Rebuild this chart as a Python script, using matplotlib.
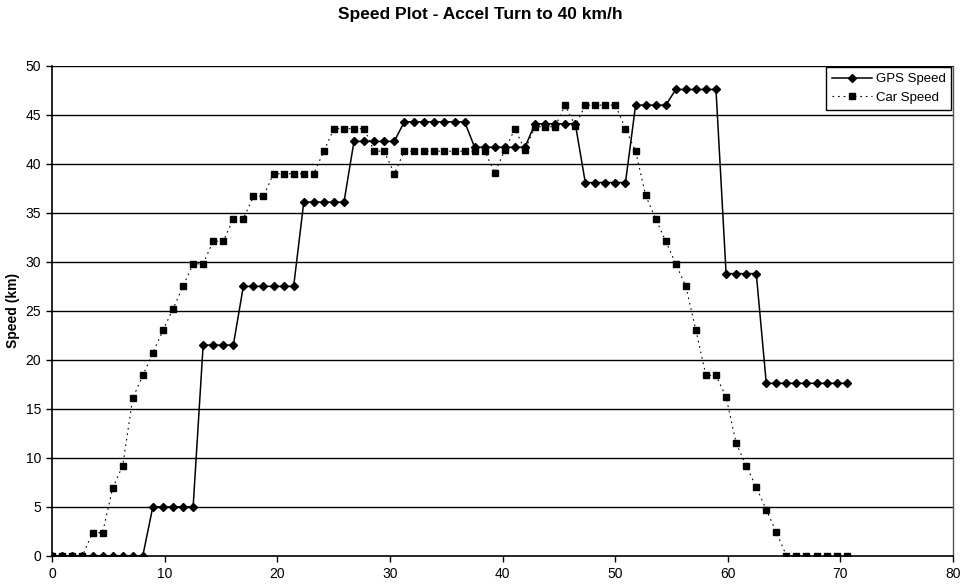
import matplotlib
matplotlib.use("Agg")
import matplotlib.pyplot as plt

plt.rcParams['font.family'] = ['Liberation Sans', 'DejaVu Sans']

time_s = [0.00, 0.89, 1.79, 2.68, 3.57, 4.47, 5.36, 6.25, 7.15, 8.04,
          8.93, 9.83, 10.72, 11.61, 12.51, 13.40, 14.29, 15.19, 16.08, 16.97,
          17.87, 18.76, 19.65, 20.55, 21.44, 22.34, 23.23, 24.12, 25.02, 25.91,
          26.80, 27.70, 28.59, 29.48, 30.38, 31.27, 32.16, 33.06, 33.95, 34.84,
          35.74, 36.63, 37.52, 38.42, 39.31, 40.20, 41.10, 41.99, 42.88, 43.78,
          44.67, 45.56, 46.46, 47.35, 48.24, 49.14, 50.03, 50.92, 51.82, 52.71,
          53.60, 54.50, 55.39, 56.28, 57.18, 58.07, 58.96, 59.86, 60.75, 61.64,
          62.54, 63.43, 64.32, 65.22, 66.11, 67.00, 67.90, 68.79, 69.68, 70.58]

gps_speed = [0, 0, 0, 0, 0, 0, 0, 0, 0, 0,
             5.0, 5.0, 5.0, 5.0, 5.0,
             21.5, 21.5, 21.5, 21.5,
             27.5, 27.5, 27.5, 27.5, 27.5, 27.5,
             36.1, 36.1, 36.1, 36.1, 36.1,
             42.3, 42.3, 42.3, 42.3, 42.3,
             44.3, 44.3, 44.3, 44.3, 44.3, 44.3, 44.3,
             41.7, 41.7, 41.7, 41.7, 41.7, 41.7,
             44.1, 44.1, 44.1, 44.1, 44.1,
             38.1, 38.1, 38.1, 38.1, 38.1,
             46.0, 46.0, 46.0, 46.0,
             47.6, 47.6, 47.6, 47.6, 47.6,
             28.8, 28.8, 28.8, 28.8,
             17.6, 17.6, 17.6, 17.6, 17.6, 17.6, 17.6, 17.6, 17.6]

car_speed = [0, 0, 0, 0, 2.35, 2.35, 6.9, 9.2, 16.1, 18.4,
             20.7, 23.0, 25.2, 27.5, 29.8, 29.8, 32.1, 32.1, 34.4, 34.4,
             36.7, 36.7, 39.0, 39.0, 39.0, 39.0, 39.0, 41.3, 43.6, 43.6,
             43.6, 43.6, 41.3, 41.3, 39.0, 41.3, 41.3, 41.3, 41.3, 41.3,
             41.3, 41.3, 41.3, 41.3, 39.1, 41.4, 43.6, 41.4, 43.8, 43.8,
             43.8, 46.0, 43.9, 46.0, 46.0, 46.0, 46.0, 43.6, 41.3, 36.8,
             34.4, 32.1, 29.8, 27.5, 23.0, 18.4, 18.4, 16.2, 11.5, 9.2,
             7.0, 4.7, 2.4, 0, 0, 0, 0, 0, 0, 0]

x_ticks = [0, 10, 20, 30, 40, 50, 60, 70, 80]
y_ticks = [0, 5, 10, 15, 20, 25, 30, 35, 40, 45, 50]

fig = plt.figure(figsize=(9.6, 5.88), dpi=100)
ax = fig.add_axes([0.0545, 0.0549, 0.938, 0.8329])

for yv in y_ticks[1:]:
    ax.axhline(yv, color='black', lw=1.0, zorder=1)

ax.plot(time_s, gps_speed, color='black', lw=1.1, marker='D', markersize=3.8,
        markerfacecolor='black', markeredgecolor='black', label='GPS Speed', zorder=3)
ax.plot(time_s, car_speed, color='black', lw=0.8, linestyle=(0, (1.5, 3.5)),
        marker='s', markersize=4.2, markerfacecolor='black', markeredgecolor='black',
        label='Car Speed', zorder=2)

ax.set_xlim(0, 80)
ax.set_ylim(0, 50)
ax.set_xticks(x_ticks)
ax.set_yticks(y_ticks)
ax.tick_params(axis='both', direction='out', length=4, width=1, labelsize=10, colors='black')
ax.tick_params(axis='x', pad=4)
ax.tick_params(axis='y', pad=4)

for side in ['left', 'bottom']:
    ax.spines[side].set_color('black')
    ax.spines[side].set_linewidth(1.2)
ax.spines['top'].set_visible(False)
ax.spines['right'].set_color('#555555')
ax.spines['right'].set_linestyle((0, (1, 1)))
ax.spines['right'].set_linewidth(1.0)

ax.set_ylabel('Speed (km)', fontsize=10, fontweight='bold', labelpad=4)
fig.text(0.5, 0.975, 'Speed Plot - Accel Turn to 40 km/h', ha='center', va='center',
         fontsize=12.5, fontweight='bold')

leg = ax.legend(loc='upper right', bbox_to_anchor=(1.0, 1.0), fontsize=9.5,
                frameon=True, fancybox=False, shadow=False, borderpad=0.45,
                handlelength=3.0, handletextpad=0.3, labelspacing=0.45,
                borderaxespad=0.1)
leg.get_frame().set_edgecolor('black')
leg.get_frame().set_linewidth(1.0)
leg.get_frame().set_alpha(1)

fig.savefig('out.png', dpi=100)
